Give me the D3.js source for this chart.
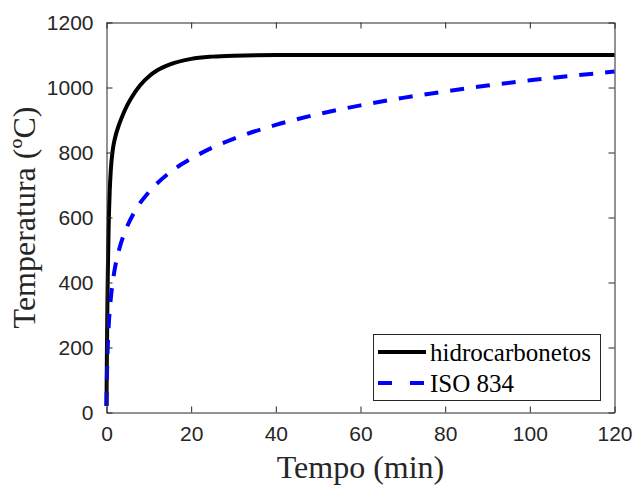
<!DOCTYPE html>
<html>
<head>
<meta charset="utf-8">
<script src="https://cdn.jsdelivr.net/npm/d3@7"></script>
<style>
  html, body { margin: 0; padding: 0; background: #fff; }
  svg { display: block; }
</style>
</head>
<body>
<svg id="chart" width="633" height="487"></svg>
<script>
// Time in minutes and temperature in degrees Celsius
const hcTime = [0, 0.1, 0.2, 0.3, 0.5, 0.75, 1, 1.5, 2, 3, 4, 5, 6, 8, 10, 12, 15, 20, 25, 30, 40, 60, 80, 100, 120];
const hcTemp = [20, 187, 318, 422, 568, 678, 743, 810, 844, 887, 920, 948, 971, 1008, 1034, 1053, 1071, 1088, 1095, 1098, 1100, 1100, 1100, 1100, 1100];

const isoTime = [0, 0.1, 0.25, 0.5, 1, 1.5, 2, 3, 4, 5, 7.5, 10, 15, 20, 25, 30, 40, 50, 60, 70, 80, 90, 100, 110, 120];
const isoTemp = [20, 108, 185, 261, 349, 404, 445, 502, 544, 576, 636, 678, 739, 781, 815, 842, 885, 918, 945, 968, 988, 1006, 1022, 1036, 1049];

const xTicks = [0, 20, 40, 60, 80, 100, 120];
const yTicks = [0, 200, 400, 600, 800, 1000, 1200];
const seriesNames = ["hidrocarbonetos", "ISO 834"];

const svg = d3.select("#chart");
const plotLeft = 106.5, plotRight = 614.5, plotTop = 22.5, plotBottom = 412.5;
const axisColor = "#262626";

const x = d3.scaleLinear().domain([0, 120]).range([plotLeft, plotRight]);
const y = d3.scaleLinear().domain([0, 1200]).range([plotBottom, plotTop]);

const line = d3.line().x(d => x(d[0])).y(d => y(d[1])).curve(d3.curveMonotoneX);

// Curves
svg.append("path")
  .datum(d3.zip(hcTime, hcTemp))
  .attr("d", line)
  .attr("fill", "none").attr("stroke", "#000").attr("stroke-width", 4);

svg.append("path")
  .datum(d3.zip(isoTime, isoTemp))
  .attr("d", line)
  .attr("fill", "none").attr("stroke", "#0000ff").attr("stroke-width", 4)
  .attr("stroke-dasharray", "14,12");

// Axes box with inward ticks on all sides
const tickLen = 6;
const fmt = d3.format("d");
const xAxisB = d3.axisBottom(x).tickValues(xTicks).tickFormat(fmt).tickSizeInner(-tickLen).tickSizeOuter(0).tickPadding(14);
const xAxisT = d3.axisTop(x).tickValues(xTicks).tickSizeInner(-tickLen).tickSizeOuter(0).tickFormat("");
const yAxisL = d3.axisLeft(y).tickValues(yTicks).tickFormat(fmt).tickSizeInner(-tickLen).tickSizeOuter(0).tickPadding(13);
const yAxisR = d3.axisRight(y).tickValues(yTicks).tickSizeInner(-tickLen).tickSizeOuter(0).tickFormat("");

function styleAxis(g) {
  g.select(".domain").attr("stroke", axisColor).attr("stroke-width", 1);
  g.selectAll(".tick line").attr("stroke", axisColor).attr("stroke-width", 1);
  g.selectAll(".tick text")
    .attr("fill", axisColor)
    .style("font-family", "Arial, 'Liberation Sans', sans-serif")
    .style("font-size", "21px");
}

svg.append("g").attr("transform", `translate(0,${plotBottom})`).call(xAxisB).call(styleAxis);
svg.append("g").attr("transform", `translate(0,${plotTop})`).call(xAxisT).call(styleAxis);
svg.append("g").attr("transform", `translate(${plotLeft},0)`).call(yAxisL).call(styleAxis);
svg.append("g").attr("transform", `translate(${plotRight},0)`).call(yAxisR).call(styleAxis);

// Axis titles
svg.append("text")
  .attr("x", (plotLeft + plotRight) / 2).attr("y", 478)
  .attr("text-anchor", "middle")
  .style("font-family", "'Times New Roman', 'Liberation Serif', serif")
  .style("font-size", "32px").attr("fill", axisColor)
  .text("Tempo (min)");

svg.append("text")
  .attr("transform", `translate(35,${(plotTop + plotBottom) / 2}) rotate(-90)`)
  .attr("text-anchor", "middle")
  .style("font-family", "'Times New Roman', 'Liberation Serif', serif")
  .style("font-size", "32px").attr("fill", axisColor)
  .text("Temperatura (ºC)");

// Legend
const lg = svg.append("g");
lg.append("rect")
  .attr("x", 373.5).attr("y", 334.5).attr("width", 227).attr("height", 66)
  .attr("fill", "#fff").attr("stroke", axisColor).attr("stroke-width", 1);

const legendRows = [
  { name: seriesNames[0], color: "#000", dash: null, yy: 352 },
  { name: seriesNames[1], color: "#0000ff", dash: "14,18", yy: 383 }
];
legendRows.forEach(r => {
  lg.append("line")
    .attr("x1", 378).attr("x2", 426).attr("y1", r.yy).attr("y2", r.yy)
    .attr("stroke", r.color).attr("stroke-width", 4)
    .attr("stroke-dasharray", r.dash);
  lg.append("text")
    .attr("x", 430).attr("y", r.yy + 9)
    .style("font-family", "'Times New Roman', 'Liberation Serif', serif")
    .style("font-size", "25px").attr("fill", "#000")
    .text(r.name);
});
</script>
</body>
</html>
